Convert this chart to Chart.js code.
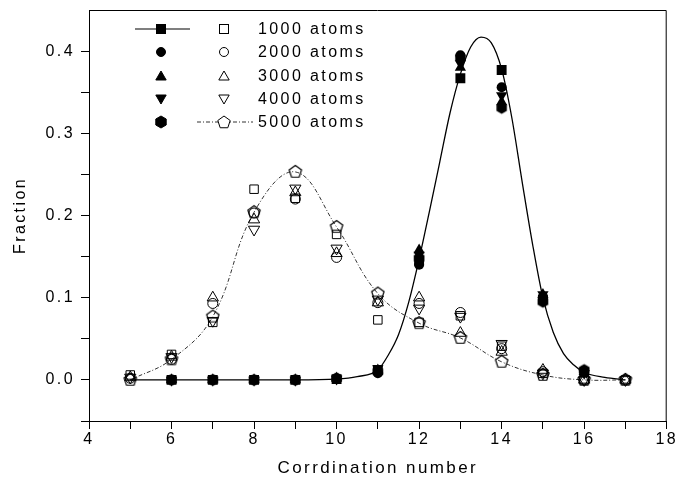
<!DOCTYPE html>
<html lang="en">
<head>
<meta charset="UTF-8">
<title>Fraction vs coordination number</title>
<script src="https://cdn.jsdelivr.net/npm/chart.js@4"></script>
<style>
  html, body { margin: 0; padding: 0; background: #fff; }
  #wrap { position: relative; width: 679px; height: 487px; }
  #legend { position: absolute; left: 0; top: 0; pointer-events: none; }
  .lbl { position: absolute; font: 16px "Liberation Sans", Arial, sans-serif; letter-spacing: 2.4px; line-height: 18px; color: #000; white-space: nowrap; }
</style>
</head>
<body>
<div id="wrap">
  <canvas id="chart" width="679" height="487"></canvas>
  <svg id="legend" width="679" height="140" xmlns="http://www.w3.org/2000/svg"></svg>
</div>

<script>
// coordination numbers (x)
const coordination = [5, 6, 7, 8, 9, 10, 11, 12, 13, 14, 15, 16, 17];

// filled symbols
const filled1000 = [null, 0, 0, 0, 0, 0.001, 0.012, 0.145, 0.367, 0.377, 0.098, 0.009, null];
const filled2000 = [null, 0, 0, 0, 0, 0.002, 0.008, 0.140, 0.395, 0.356, 0.100, 0.011, null];
const filled3000 = [null, 0, 0, 0, 0, 0.002, 0.012, 0.158, 0.380, 0.338, 0.104, 0.010, null];
const filled4000 = [null, 0, 0, 0, 0, 0.001, 0.014, 0.152, 0.385, 0.346, 0.104, 0.008, null];
const filled5000 = [null, 0, 0, 0, 0, 0.002, 0.010, 0.148, 0.392, 0.331, 0.095, 0.012, null];

// open symbols
const open1000 = [0.006, 0.031, 0.070, 0.232, 0.221, 0.177, 0.073, 0.070, 0.078, 0.041, 0.008, 0.000, 0.000];
const open2000 = [0.002, 0.025, 0.093, 0.203, 0.220, 0.149, 0.094, 0.093, 0.082, 0.038, 0.010, 0.000, 0.000];
const open3000 = [0.003, 0.028, 0.100, 0.195, 0.228, 0.154, 0.094, 0.100, 0.057, 0.034, 0.012, 0.000, 0.000];
const open4000 = [0.003, 0.028, 0.072, 0.183, 0.233, 0.160, 0.098, 0.087, 0.077, 0.044, 0.008, 0.000, 0.000];
const open5000 = [0.000, 0.025, 0.077, 0.204, 0.253, 0.186, 0.105, 0.069, 0.051, 0.022, 0.006, 0.000, 0.000];

// solid curve
const curveX = [5, 6, 7, 8, 9, 10, 10.5, 11, 11.25, 11.5, 11.75, 12, 12.25, 12.5, 12.75, 13, 13.25, 13.5, 13.75, 14, 14.25, 14.5, 14.75, 15, 15.25, 15.5, 15.75, 16, 16.5, 17];
const curveY = [0, 0, 0, 0, 0, 0.001, 0.004, 0.012, 0.030, 0.055, 0.095, 0.147, 0.205, 0.265, 0.325, 0.372, 0.405, 0.417, 0.410, 0.378, 0.318, 0.240, 0.165, 0.100, 0.058, 0.032, 0.018, 0.009, 0.003, 0];

const seriesNames = ["1000 atoms", "2000 atoms", "3000 atoms", "4000 atoms", "5000 atoms"];

const FONT = '"Liberation Sans", Arial, sans-serif';

function pts(xs, ys) {
    const out = [];
    xs.forEach((x, i) => { if (ys[i] !== null) out.push({ x: x, y: ys[i] }); });
    return out;
}

// polygon markers for hexagon / pentagon
function polyImage(sides, r, filled) {
    const size = Math.ceil(r * 2 + 3);
    const c = document.createElement("canvas");
    c.width = size; c.height = size;
    const g = c.getContext("2d");
    g.beginPath();
    for (let i = 0; i < sides; i++) {
        const a = -Math.PI / 2 + i * 2 * Math.PI / sides;
        const px = size / 2 + r * Math.cos(a), py = size / 2 + r * Math.sin(a);
        if (i === 0) g.moveTo(px, py); else g.lineTo(px, py);
    }
    g.closePath();
    if (filled) { g.fillStyle = "#000"; g.fill(); }
    else { g.strokeStyle = "#000"; g.lineWidth = 1.2; g.stroke(); }
    return c;
}
const hexFilled = polyImage(6, 6, true);
const pentOpen = polyImage(5, 6.5, false);

function filledSet(data, style, radius, rotation) {
    return {
        data: pts(coordination, data), showLine: false,
        pointStyle: style, pointRadius: radius, pointHoverRadius: radius,
        pointRotation: rotation || 0,
        backgroundColor: "#000", borderColor: "#000", borderWidth: 0
    };
}
function openSet(data, style, radius, rotation) {
    return {
        data: pts(coordination, data), showLine: false,
        pointStyle: style, pointRadius: radius, pointHoverRadius: radius,
        pointRotation: rotation || 0,
        backgroundColor: "rgba(0,0,0,0)", borderColor: "#000", borderWidth: 1
    };
}

const spacing = {
    id: "spacing",
    beforeLayout(c) { c.ctx.letterSpacing = "2.4px"; },
    beforeDraw(c) { c.ctx.letterSpacing = "2.4px"; }
};

const frame = {
    id: "frame",
    afterDraw(c) {
        const a = c.chartArea, ctx = c.ctx;
        ctx.save();
        ctx.strokeStyle = "#000";
        ctx.lineWidth = 1;
        ctx.beginPath();
        ctx.moveTo(a.left, a.top + 0.5);
        ctx.lineTo(a.right - 0.5, a.top + 0.5);
        ctx.lineTo(a.right - 0.5, a.bottom);
        ctx.stroke();
        ctx.restore();
    }
};

new Chart(document.getElementById("chart"), {
    type: "scatter",
    data: {
        datasets: [
            filledSet(filled1000, "rect", 7),
            filledSet(filled2000, "circle", 5),
            filledSet(filled3000, "triangle", 6.5),
            filledSet(filled4000, "triangle", 6.5, 180),
            filledSet(filled5000, hexFilled, 6),
            openSet(open1000, "rect", 6),
            openSet(open2000, "circle", 5),
            openSet(open3000, "triangle", 6.5),
            openSet(open4000, "triangle", 6.5, 180),
            openSet(open5000, pentOpen, 6.5),
            {
                data: pts(coordination, open5000), showLine: true, pointRadius: 0,
                borderColor: "#333", borderWidth: 1, borderDash: [4, 2, 1, 2],
                tension: 0.4, fill: false
            },
            {
                data: pts(curveX, curveY), showLine: true, pointRadius: 0,
                borderColor: "#000", borderWidth: 1.3,
                cubicInterpolationMode: "monotone", fill: false
            }
        ]
    },
    options: {
        responsive: false,
        animation: false,
        devicePixelRatio: 1,
        layout: { padding: { top: 10, right: 11, left: 0, bottom: 0 } },
        plugins: { legend: { display: false }, tooltip: { enabled: false } },
        scales: {
            x: {
                type: "linear", min: 4, max: 18,
                ticks: {
                    stepSize: 1, autoSkip: false, maxRotation: 0, padding: 1,
                    color: "#000", font: { family: FONT, size: 16 },
                    callback: v => (v % 2 === 0 ? String(v) : "")
                },
                grid: { drawOnChartArea: false, drawTicks: true, tickLength: 8, color: "#000", lineWidth: 1 },
                border: { display: true, color: "#000", width: 1 },
                title: {
                    display: true, text: "Corrdination number", color: "#000",
                    font: { family: FONT, size: 17 }, padding: { top: 4, bottom: 8 }
                },
                afterFit: s => { s.height = 66; }
            },
            y: {
                min: -0.05, max: 0.45,
                ticks: {
                    stepSize: 0.05, autoSkip: false, padding: 6,
                    color: "#000", font: { family: FONT, size: 16 },
                    callback: v => (Math.round(v * 100) % 10 === 0 ? v.toFixed(1) : "")
                },
                grid: {
                    drawOnChartArea: false, drawTicks: true, tickLength: 8, lineWidth: 1,
                    color: ctx => (ctx.tick && ctx.tick.value > 0.44 ? "rgba(0,0,0,0)" : "#000")
                },
                border: { display: true, color: "#000", width: 1 },
                title: {
                    display: true, text: "Fraction", color: "#000",
                    font: { family: FONT, size: 16 }, padding: { top: 11, bottom: 0 }
                },
                afterFit: s => { s.width = 89; s.paddingTop = 0; s.paddingBottom = 0; }
            }
        }
    },
    plugins: [spacing, frame]
});

// legend: filled symbol, open symbol, label
const svg = document.getElementById("legend");
const NS = "http://www.w3.org/2000/svg";
const rowY = [29, 52, 76, 99, 122];
const fx = 161, ox = 224, tx = 258;

function el(name, attrs) {
    const e = document.createElementNS(NS, name);
    for (const k in attrs) e.setAttribute(k, attrs[k]);
    svg.appendChild(e);
    return e;
}
function polyPoints(cx, cy, sides, r, rot) {
    const p = [];
    for (let i = 0; i < sides; i++) {
        const a = rot + i * 2 * Math.PI / sides;
        p.push((cx + r * Math.cos(a)).toFixed(2) + "," + (cy + r * Math.sin(a)).toFixed(2));
    }
    return p.join(" ");
}
function marker(kind, cx, cy, filled) {
    const f = filled ? "#000" : "#fff";
    const common = { fill: f, stroke: "#000", "stroke-width": 1 };
    if (kind === 0) el("rect", Object.assign({ x: cx - 4.5, y: cy - 4.5, width: 9, height: 9 }, common));
    if (kind === 1) el("circle", Object.assign({ cx: cx, cy: cy, r: 4.5 }, common));
    if (kind === 2) el("polygon", Object.assign({ points: polyPoints(cx, cy + 1, 3, 6, -Math.PI / 2) }, common));
    if (kind === 3) el("polygon", Object.assign({ points: polyPoints(cx, cy - 1, 3, 6, Math.PI / 2) }, common));
    if (kind === 4 && filled) el("polygon", Object.assign({ points: polyPoints(cx, cy, 6, 6, -Math.PI / 2) }, common));
    if (kind === 4 && !filled) el("polygon", Object.assign({ points: polyPoints(cx, cy + 0.5, 5, 6.5, -Math.PI / 2) }, common));
}

el("line", { x1: 135, y1: rowY[0], x2: 190, y2: rowY[0], stroke: "#000", "stroke-width": 1.2 });
el("line", { x1: 197, y1: rowY[4], x2: 253, y2: rowY[4], stroke: "#333", "stroke-width": 1, "stroke-dasharray": "4 2 1 2" });

seriesNames.forEach((name, i) => {
    marker(i, fx, rowY[i], true);
    marker(i, ox, rowY[i], false);
    const d = document.createElement("div");
    d.className = "lbl";
    d.textContent = name;
    d.style.left = tx + "px";
    d.style.top = (rowY[i] - 9) + "px";
    document.getElementById("wrap").appendChild(d);
});
</script>
</body>
</html>
